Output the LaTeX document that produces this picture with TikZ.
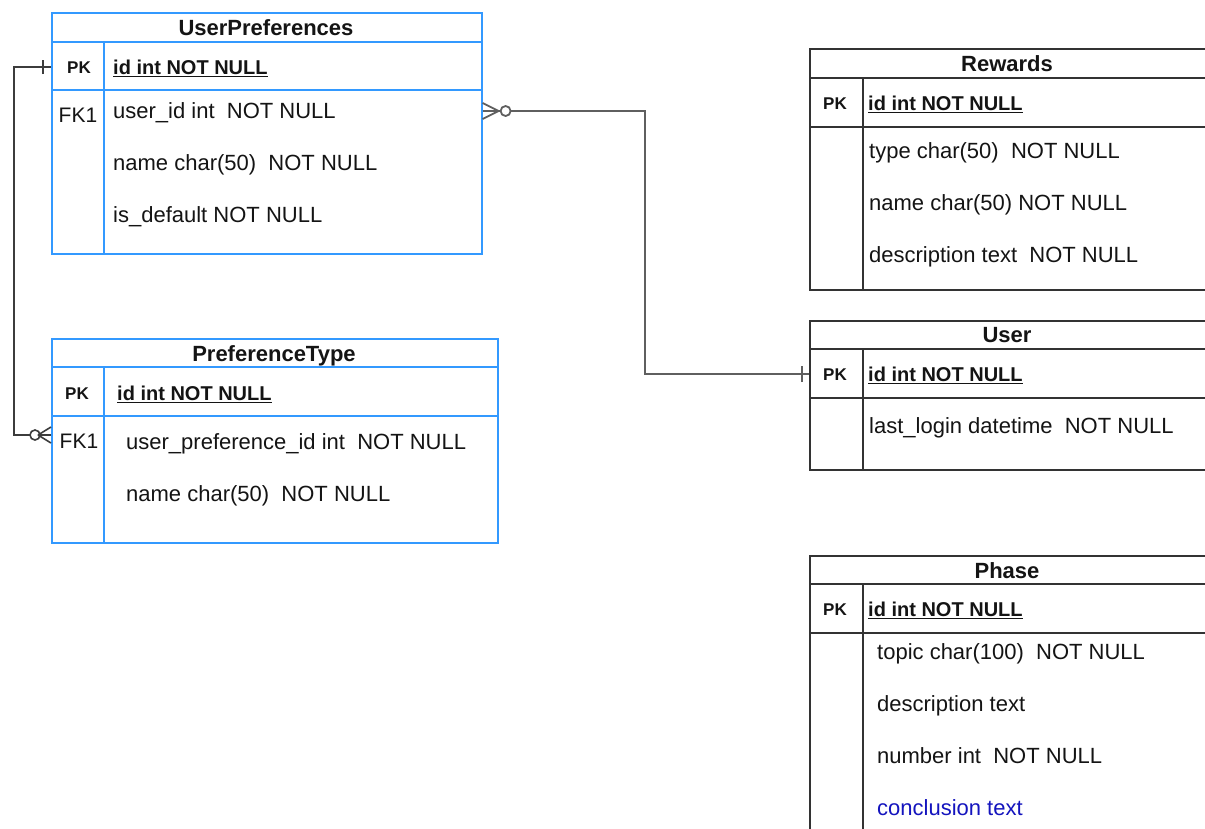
\documentclass[tikz,border=0pt]{standalone}
\usepackage{fontspec}
\setmainfont{Liberation Sans}
\usetikzlibrary{positioning}

\definecolor{erblue}{RGB}{51,153,255}
\definecolor{erline}{RGB}{60,60,60}
\definecolor{ergray}{RGB}{95,95,95}
\definecolor{fielddark}{RGB}{20,20,20}
\definecolor{newfield}{RGB}{20,20,190}

\tikzset{
  bluebox/.style={draw=erblue, line width=1.6pt, rectangle, inner sep=0pt, anchor=north west},
  darkbox/.style={draw=black!80, line width=1.6pt, rectangle, inner sep=0pt, anchor=north west},
  blueline/.style={draw=erblue, line width=1.6pt},
  darkline/.style={draw=black!80, line width=1.6pt},
  ttl/.style={inner sep=0pt, text=fielddark, font=\fontsize{22}{26}\selectfont\bfseries, text height=15.7pt, text depth=0pt},
  fld/.style={anchor=west, inner sep=0pt, text=fielddark, font=\fontsize{22}{26}\selectfont, text height=15.7pt, text depth=0pt},
  pkfld/.style={fld, font=\fontsize{20}{24}\selectfont\bfseries, text height=14.3pt},
  pklbl/.style={inner sep=0pt, text=fielddark, font=\fontsize{17}{20}\selectfont\bfseries, text height=12.2pt, text depth=0pt},
  fklbl/.style={inner sep=0pt, text=fielddark, font=\fontsize{21}{25}\selectfont, text height=15pt, text depth=0pt},
  rel/.style={draw=erline, line width=1.6pt},
  relgray/.style={draw=ergray, line width=1.8pt}
}

\begin{document}
\begin{tikzpicture}[x=1pt, y=-1pt]

  \useasboundingbox[fill=white] (0,0) rectangle (1205,828);

  %UserPreferences
  \node[bluebox, minimum width=430pt, minimum height=241pt] (up) at (51,12) {};
  \draw[blueline] (51,42) -- (481,42);
  \draw[blueline] (51,90) -- (481,90);
  \draw[blueline] (104,42) -- (104,253);
  \node[ttl] (upT) at (266,28) {UserPreferences};
  \node[pklbl] (upPK) at (79,67) {PK};
  \node[pkfld] (upId) at (113,67) {\underline{id int NOT NULL}};
  \node[fklbl] (upFK) at (78,115) {FK1};
  \node[fld] (upUser) at (113,111) {user\_id int\ \ NOT NULL};
  \node[fld] (upName) at (113,163) {name char(50)\ \ NOT NULL};
  \node[fld] (upDef) at (113,215) {is\_default NOT NULL};

  %PreferenceType
  \node[bluebox, minimum width=446pt, minimum height=204pt] (pt) at (51,338) {};
  \draw[blueline] (51,367) -- (497,367);
  \draw[blueline] (51,416) -- (497,416);
  \draw[blueline] (104,367) -- (104,542);
  \node[ttl] (ptT) at (274,354) {PreferenceType};
  \node[pklbl] (ptPK) at (77,393) {PK};
  \node[pkfld] (ptId) at (117,393) {\underline{id int NOT NULL}};
  \node[fklbl] (ptFK) at (79,441) {FK1};
  \node[fld] (ptPref) at (126,442) {user\_preference\_id int\ \ NOT NULL};
  \node[fld] (ptName) at (126,494) {name char(50)\ \ NOT NULL};

  %Rewards
  \node[darkbox, minimum width=400pt, minimum height=241pt] (rw) at (809,48) {};
  \draw[darkline] (809,78) -- (1210,78);
  \draw[darkline] (809,127) -- (1210,127);
  \draw[darkline] (863,78) -- (863,289);
  \node[ttl] (rwT) at (1007,64) {Rewards};
  \node[pklbl] (rwPK) at (835,103) {PK};
  \node[pkfld] (rwId) at (868,103) {\underline{id int NOT NULL}};
  \node[fld] (rwType) at (869,151) {type char(50)\ \ NOT NULL};
  \node[fld] (rwName) at (869,203) {name char(50) NOT NULL};
  \node[fld] (rwDesc) at (869,255) {description text\ \ NOT NULL};

  %User
  \node[darkbox, minimum width=400pt, minimum height=149pt] (us) at (809,320) {};
  \draw[darkline] (809,349) -- (1210,349);
  \draw[darkline] (809,398) -- (1210,398);
  \draw[darkline] (863,349) -- (863,469);
  \node[ttl] (usT) at (1007,335) {User};
  \node[pklbl] (usPK) at (835,374) {PK};
  \node[pkfld] (usId) at (868,374) {\underline{id int NOT NULL}};
  \node[fld] (usLogin) at (869,426) {last\_login datetime\ \ NOT NULL};

  %Phase
  \node[darkbox, minimum width=400pt, minimum height=300pt] (ph) at (809,555) {};
  \draw[darkline] (809,584) -- (1210,584);
  \draw[darkline] (809,633) -- (1210,633);
  \draw[darkline] (863,584) -- (863,860);
  \node[ttl] (phT) at (1007,571) {Phase};
  \node[pklbl] (phPK) at (835,609) {PK};
  \node[pkfld] (phId) at (868,609) {\underline{id int NOT NULL}};
  \node[fld] (phTopic) at (877,652) {topic char(100)\ \ NOT NULL};
  \node[fld] (phDesc) at (877,704) {description text};
  \node[fld] (phNum) at (877,756) {number int\ \ NOT NULL};
  \node[fld, text=newfield] (phConc) at (877,808) {conclusion text};

  %UserPreferences -> PreferenceType
  \coordinate (upA) at (up.west |- upId);
  \coordinate (ptA) at (pt.west |- 0,435);
  \draw[rel] (upA) -- ++(-37,0) |- ([xshift=-21pt]ptA);
  \draw[rel] ([xshift=-8pt,yshift=-7pt]upA) -- ([xshift=-8pt,yshift=7pt]upA);
  \draw[rel] ([xshift=-16pt]ptA) circle (5pt);
  \draw[rel] ([xshift=-11pt]ptA) -- (ptA);
  \draw[rel] ([xshift=-13pt]ptA) -- ([yshift=8pt]ptA);
  \draw[rel] ([xshift=-13pt]ptA) -- ([yshift=-8pt]ptA);

  %UserPreferences -> User
  \coordinate (upB) at (up.east |- upUser);
  \coordinate (usA) at (us.west |- usId);
  \draw[relgray] ([xshift=28pt]upB) -| (645,374) -- (usA);
  \draw[relgray] ([xshift=23pt]upB) circle (5pt);
  \draw[relgray] (upB) -- ([xshift=18pt]upB);
  \draw[relgray] ([yshift=8pt]upB) -- ([xshift=16pt]upB) -- ([yshift=-8pt]upB);
  \draw[relgray] ([xshift=-7pt,yshift=-8pt]usA) -- ([xshift=-7pt,yshift=8pt]usA);

\end{tikzpicture}
\end{document}
